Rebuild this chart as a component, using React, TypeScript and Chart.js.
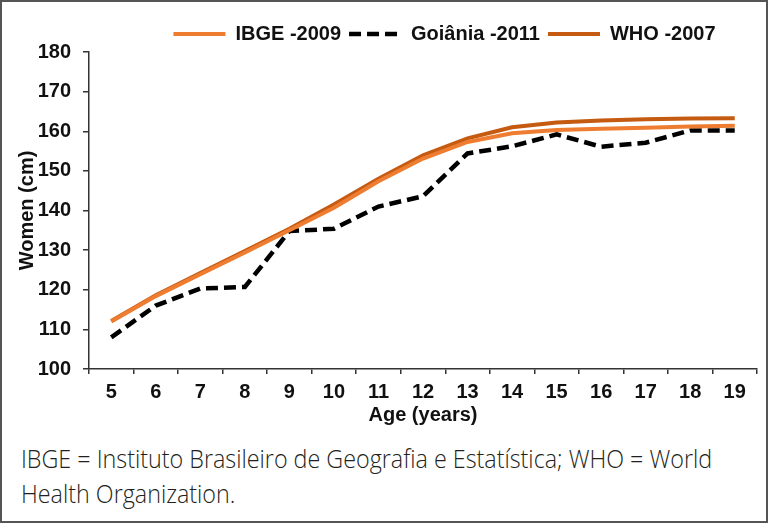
import React, { useEffect, useRef } from 'react';
import { Chart, registerables } from 'chart.js';

Chart.register(...registerables);

// ---- data ----
const ages = ['5', '6', '7', '8', '9', '10', '11', '12', '13', '14', '15', '16', '17', '18', '19'];
const ibge2009 = [112, 118.4, 123.9, 129.4, 135, 140.7, 147.4, 153.1, 157.3, 159.5, 160.3, 160.6, 160.9, 161.2, 161.4];
const goiania2011 = [108, 116, 120.3, 120.7, 134.8, 135.4, 141, 143.6, 154.4, 156.2, 159.2, 156.1, 157.1, 160.2, 160.2];
const who2007 = [112.1, 118.6, 124.2, 129.8, 135.4, 141.5, 148, 153.9, 158.2, 161, 162.2, 162.7, 163, 163.2, 163.3];
const seriesLabels = ['IBGE -2009', 'Goiânia -2011', 'WHO -2007'];
const yMin = 100;
const yMax = 180;
const yStep = 10;
const xTitle = 'Age (years)';
const yTitle = 'Women (cm)';
const captionLines = [
  'IBGE = Instituto Brasileiro de Geografia e Estatística; WHO = World',
  'Health Organization.',
];

const FONT = "'Liberation Sans', Arial, Helvetica, sans-serif";
const CAPTION_WIDTH = 691;

export default function App() {
  const canvasRef = useRef<HTMLCanvasElement | null>(null);
  const capRefs = useRef<(HTMLDivElement | null)[]>([]);

  useEffect(() => {
    document.body.style.margin = '0';
    const canvas = canvasRef.current;
    if (!canvas) return;

    const legendShift = {
      id: 'legendShift',
      afterLayout(chart: any) {
        const l = chart.legend;
        if (!l) return;
        l.left += 65;
        l.right += 65;
        l.top += 2;
        l.bottom += 2;
      },
    };

    const tickFont = { family: FONT, size: 20, weight: 'bold' as const };
    const defaultGen = (Chart as any).defaults.plugins.legend.labels.generateLabels;

    const chart = new Chart(canvas, {
      type: 'line',
      data: {
        labels: ages,
        datasets: [
          {
            label: seriesLabels[0],
            data: ibge2009,
            borderColor: '#EE7D31',
            backgroundColor: '#EE7D31',
            borderWidth: 4,
            pointRadius: 0,
            tension: 0,
            fill: false,
          },
          {
            label: seriesLabels[1],
            data: goiania2011,
            borderColor: '#000000',
            backgroundColor: '#000000',
            borderWidth: 4.5,
            borderDash: [12, 6],
            pointRadius: 0,
            tension: 0,
            fill: false,
          },
          {
            label: seriesLabels[2],
            data: who2007,
            borderColor: '#C55A11',
            backgroundColor: '#C55A11',
            borderWidth: 4,
            pointRadius: 0,
            tension: 0,
            fill: false,
          },
        ],
      },
      options: {
        responsive: false,
        animation: false,
        events: [],
        layout: { padding: { top: 12, right: 9, bottom: 0, left: 0 } },
        plugins: {
          legend: {
            position: 'top',
            align: 'center',
            labels: {
              usePointStyle: true,
              pointStyle: 'line',
              pointStyleWidth: 52,
              padding: 8,
              color: '#111',
              font: tickFont,
              generateLabels: (ch: any) => {
                const items = defaultGen(ch);
                return items.map((it: any) => {
                  const ds: any = ch.data.datasets[it.datasetIndex];
                  return {
                    ...it,
                    pointStyle: 'line',
                    strokeStyle: ds.borderColor,
                    fillStyle: ds.borderColor,
                    lineWidth: ds.borderWidth,
                    lineDash: ds.borderDash || [],
                    lineCap: 'butt',
                  };
                });
              },
            },
          },
          tooltip: { enabled: false },
        },
        scales: {
          x: {
            offset: true,
            grid: {
              offset: true,
              drawOnChartArea: false,
              drawTicks: true,
              tickLength: 5,
              color: '#333',
              lineWidth: 1.5,
            },
            border: { color: '#333', width: 1.5 },
            ticks: { padding: 6, color: '#111', font: tickFont, maxRotation: 0, autoSkip: false },
            title: {
              display: true,
              text: xTitle,
              color: '#111',
              font: tickFont,
              padding: { top: 0, bottom: 8 },
            },
            afterFit: (s: any) => {
              s.height = 66;
            },
          },
          y: {
            min: yMin,
            max: yMax,
            grid: {
              drawOnChartArea: false,
              drawTicks: true,
              tickLength: 6,
              color: '#333',
              lineWidth: 1.5,
            },
            border: { color: '#333', width: 1.5 },
            ticks: { stepSize: yStep, padding: 12, color: '#111', font: tickFont },
            title: {
              display: true,
              text: yTitle,
              color: '#111',
              font: tickFont,
              padding: { top: 13, bottom: 0 },
            },
            afterFit: (s: any) => {
              s.width = 87;
            },
          },
        },
      },
      plugins: [legendShift],
    });

    const fitCaption = () => {
      const first = capRefs.current[0];
      if (!first) return;
      const w = first.offsetWidth;
      if (!w) return;
      const s = CAPTION_WIDTH / w;
      capRefs.current.forEach((el) => {
        if (el) el.style.transform = `scaleX(${s})`;
      });
    };
    fitCaption();
    if ((document as any).fonts && (document as any).fonts.ready) {
      (document as any).fonts.ready.then(fitCaption);
    }

    return () => {
      chart.destroy();
    };
  }, []);

  return (
    <div
      style={{
        position: 'fixed',
        left: 0,
        top: 0,
        width: 768,
        height: 523,
        border: '2px solid #555',
        boxSizing: 'border-box',
        background: '#fff',
        overflow: 'hidden',
      }}
    >
      <canvas
        ref={canvasRef}
        width={764}
        height={433}
        style={{ position: 'absolute', left: 0, top: 0, width: 764, height: 433 }}
      />
      {captionLines.map((t, i) => (
        <div
          key={i}
          ref={(el) => {
            capRefs.current[i] = el;
          }}
          style={{
            position: 'absolute',
            left: 18.7,
            top: 443.8 + i * 35,
            fontFamily: "'Open Sans', sans-serif",
            fontWeight: 300,
            fontSize: 25,
            lineHeight: '25px',
            whiteSpace: 'nowrap',
            color: '#231f20',
            transformOrigin: '0 0',
          }}
        >
          {t}
        </div>
      ))}
    </div>
  );
}
